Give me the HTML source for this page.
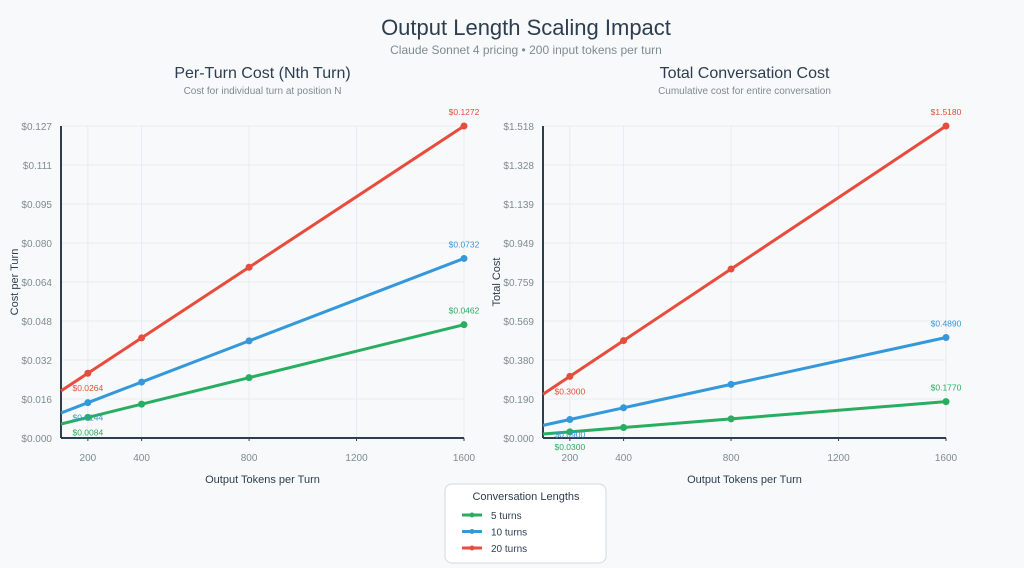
<!DOCTYPE html>
<html><head><meta charset="utf-8"><style>
body{margin:0;background:#f8f9fa;font-family:"Liberation Sans",Arial,sans-serif;}
svg{display:block}
</style></head><body>
<svg id="s" width="1024" height="568" xmlns="http://www.w3.org/2000/svg">
<rect width="1024" height="568" fill="#f8f9fa"/>
<text x="526" y="35" text-anchor="middle" font-size="22" fill="#2c3e50">Output Length Scaling Impact</text>
<text x="526" y="54" text-anchor="middle" font-size="12" fill="#7f8c8d">Claude Sonnet 4 pricing • 200 input tokens per turn</text>
<g id="legend">
<rect x="445" y="484" width="161" height="79" rx="7" fill="#fff" stroke="#d5d8dc"/>
<text x="526" y="500" text-anchor="middle" font-size="11" fill="#2c3e50">Conversation Lengths</text>
</g>
</svg>
<script>
const NS='http://www.w3.org/2000/svg';
const svg=document.getElementById('s');
const xTicks=[200,400,800,1600,1200];
const lineX=[100,200,400,800,1600];
const seriesNames=['5 turns','10 turns','20 turns'];
const colors=['#27ae60','#3498db','#e74c3c'];
const perTurn5=[0.0057,0.0084,0.0138,0.0246,0.0462];
const perTurn10=[0.0102,0.0144,0.0228,0.0396,0.0732];
const perTurn20=[0.0192,0.0264,0.0408,0.0696,0.1272];
const total5=[0.0195,0.0300,0.0510,0.0930,0.1770];
const total10=[0.0615,0.0900,0.1470,0.2610,0.4890];
const total20=[0.2130,0.3000,0.4740,0.8220,1.5180];
const leftMax=0.1272, rightMax=1.518;
function el(t,a,p){const e=document.createElementNS(NS,t);for(const k in a)e.setAttribute(k,a[k]);(p||svg).appendChild(e);return e;}
function chart(ox,max,series,title,sub,ytitle,dec,key){
  const g=el('g',{});
  
  
  const x0=ox, x1=ox+403, y0=438, y1=126;
  const xs=v=>x0+(v-100)/1500*(x1-x0);
  const ys=v=>y0-v/max*(y0-y1);
  const cx=(x0+x1)/2;
  let t=el('text',{x:cx,y:78,'text-anchor':'middle','font-size':16,fill:'#2c3e50'},g);t.textContent=title;
  
  t=el('text',{x:cx,y:94,'text-anchor':'middle','font-size':10,fill:'#7f8c8d'},g);t.textContent=sub;
  
  for(let k=0;k<=8;k++){const v=max*k/8,y=ys(v);
    el('line',{x1:x0,x2:x1,y1:y,y2:y,stroke:'#e8ecee','stroke-width':1},g);
    t=el('text',{x:x0-9,y:y+4,'text-anchor':'end','font-size':10,fill:'#7f8c8d'},g);t.textContent='$'+v.toFixed(3);
    }
  xTicks.forEach(v=>{const x=xs(v);
    el('line',{x1:x,x2:x,y1:y1,y2:y0,stroke:'#e8ecee'},g);
    el('line',{x1:x,x2:x,y1:y0,y2:y0+3,stroke:'#2c3e50'},g);
    t=el('text',{x:x,y:y0+23,'text-anchor':'middle','font-size':10,fill:'#7f8c8d'},g);t.textContent=v;
    });
  el('line',{x1:x0,x2:x0,y1:y1,y2:y0,stroke:'#2c3e50','stroke-width':2},g);
  el('line',{x1:x0,x2:x1,y1:y0,y2:y0,stroke:'#2c3e50','stroke-width':2},g);
  t=el('text',{x:cx,y:483,'text-anchor':'middle','font-size':11,fill:'#2c3e50'},g);t.textContent='Output Tokens per Turn';
  
  t=el('text',{x:0,y:0,'text-anchor':'middle','font-size':11,fill:'#2c3e50',transform:`translate(${x0-43},${(y0+y1)/2}) rotate(-90)`},g);t.textContent=ytitle;
  
  series.forEach((arr,i)=>{
    const pts=arr.map((v,j)=>xs(lineX[j])+','+ys(v)).join(' ');
    const pl=el('polyline',{points:pts,fill:'none',stroke:colors[i],'stroke-width':3},g);
    
    arr.forEach((v,j)=>{if(j===0)return;
      const c=el('circle',{cx:xs(lineX[j]),cy:ys(v),r:3.5,fill:colors[i]},g);
      
      if(j===1||j===4){
        const lt=el('text',{x:xs(lineX[j]),y:ys(v)+(j===1?18:-11),'text-anchor':'middle','font-size':8.5,fill:colors[i]},g);
        lt.textContent='$'+v.toFixed(4);
        }
    });
  });
}
chart(61,leftMax,[perTurn5,perTurn10,perTurn20],'Per-Turn Cost (Nth Turn)','Cost for individual turn at position N','Cost per Turn',3,'per-turn');
chart(543,rightMax,[total5,total10,total20],'Total Conversation Cost','Cumulative cost for entire conversation','Total Cost',3,'total');
const lg=document.getElementById('legend');
seriesNames.forEach((n,i)=>{const y=515+i*16.5;
  const g=el('g',{},lg);
  
  
  el('line',{x1:462,x2:482,y1:y,y2:y,stroke:colors[i],'stroke-width':3},g);
  el('circle',{cx:472,cy:y,r:2.5,fill:colors[i]},g);
  const t=el('text',{x:491,y:y+4,'font-size':10,fill:'#2c3e50'},g);t.textContent=n;});
</script>
</body></html>
